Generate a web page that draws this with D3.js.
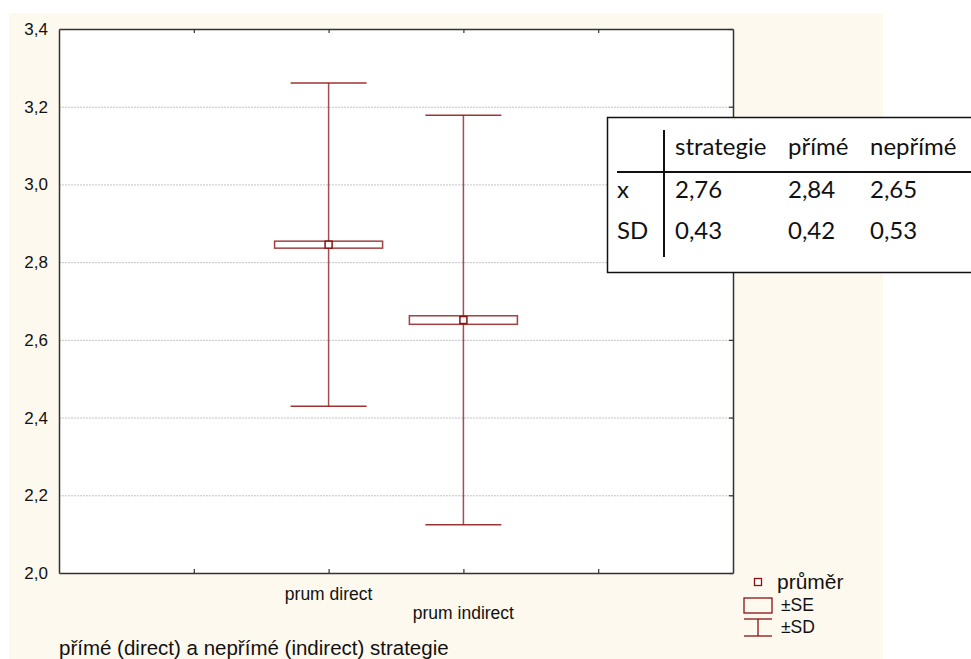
<!DOCTYPE html>
<html>
<head>
    <meta charset="utf-8">
    <title>přímé a nepřímé strategie</title>
    <style type="text/css">
    body { margin: 0; background: #fff; }
    svg text { font-family: "Liberation Sans", Arial, sans-serif; fill: #111; }
    .tbl text { font-family: Lato, "Open Sans", sans-serif; font-size: 24px; }
    .grid line { stroke: #c4c4c4; stroke-dasharray: 2,1; }
    </style>
</head>
<body>
<script src="https://cdn.jsdelivr.net/npm/d3@7"></script>
<script>
// data
var categories = ['prum direct', 'prum indirect'];
var catPos = [2, 3];           // slots on the x axis (0..5)
var means = [2.845, 2.651];
var se = [0.009, 0.011];
var sd = [0.416, 0.527];
var yTicks = [2.0, 2.2, 2.4, 2.6, 2.8, 3.0, 3.2, 3.4];

// table in the corner
var tblHead = ['', 'strategie', 'přímé', 'nepřímé'];
var tblRows = [
    ['x', '2,76', '2,84', '2,65'],
    ['SD', '0,43', '0,42', '0,53']
];
var legendLabels = ['průměr', '±SE', '±SD'];

var W = 971, H = 659,
    red = '#8b1111',
    plot = { left: 59, right: 733, top: 29, bottom: 573 };

var svg = d3.select('body').append('svg')
    .attr('width', W)
    .attr('height', H);

// cream page background
svg.append('rect')
    .attr('x', 9).attr('y', 13)
    .attr('width', 874).attr('height', H - 13)
    .attr('fill', '#fdf9ee');

svg.append('rect')
    .attr('x', plot.left).attr('y', plot.top)
    .attr('width', plot.right - plot.left).attr('height', plot.bottom - plot.top)
    .attr('fill', '#fff');

var x = d3.scaleLinear().domain([0, 5]).range([plot.left, plot.right]);
var y = d3.scaleLinear().domain([2.0, 3.4]).range([plot.bottom, plot.top]);
var fmt = function(d) { return d3.format('.1f')(d).replace('.', ','); };

// gridlines
svg.append('g').attr('class', 'grid')
    .selectAll('line')
    .data(yTicks.filter(function(d) { return d > 2.0 && d < 3.4; }))
    .enter().append('line')
    .attr('x1', plot.left).attr('x2', plot.right)
    .attr('y1', function(d) { return y(d) + 0.5; })
    .attr('y2', function(d) { return y(d) + 0.5; });

// axes
var axisStyle = function(g) {
    g.select('.domain').attr('stroke', '#333').attr('stroke-width', 1.5);
    g.selectAll('.tick line').attr('stroke', '#333').attr('stroke-width', 1.2);
};
svg.append('g')
    .attr('transform', 'translate(0,' + plot.bottom + ')')
    .call(d3.axisBottom(x).tickValues([1, 2, 3, 4]).tickSize(-4).tickSizeOuter(0).tickFormat(''))
    .call(axisStyle);
svg.append('g')
    .attr('transform', 'translate(0,' + plot.top + ')')
    .call(d3.axisTop(x).tickValues([1, 2, 3, 4]).tickSize(-4).tickSizeOuter(0).tickFormat(''))
    .call(axisStyle);
svg.append('g')
    .attr('transform', 'translate(' + plot.right + ',0)')
    .call(d3.axisRight(y).tickValues(yTicks).tickSize(-4).tickSizeOuter(0).tickFormat(''))
    .call(axisStyle);
var yAxis = svg.append('g')
    .attr('transform', 'translate(' + plot.left + ',0)')
    .call(d3.axisLeft(y).tickValues(yTicks).tickSize(0).tickSizeOuter(0).tickPadding(11).tickFormat(fmt))
    .call(axisStyle);
yAxis.selectAll('text')
    .style('font-family', '"Liberation Sans", Arial, sans-serif')
    .style('font-size', '17px').attr('fill', '#111');

// category labels, staggered
svg.selectAll('.cat')
    .data(categories)
    .enter().append('text')
    .attr('class', 'cat')
    .attr('x', function(d, i) { return x(catPos[i]); })
    .attr('y', function(d, i) { return 600 + i * 19; })
    .attr('text-anchor', 'middle')
    .style('font-size', '17.5px')
    .text(function(d) { return d; });

svg.append('text')
    .attr('x', 59).attr('y', 655)
    .style('font-size', '20.5px')
    .text('přímé (direct) a nepřímé (indirect) strategie');

// error bars
var bars = svg.selectAll('.eb')
    .data(means)
    .enter().append('g')
    .attr('class', 'eb')
    .attr('transform', function(d, i) { return 'translate(' + x(catPos[i]) + ',0)'; });

bars.append('line')
    .attr('x1', 0).attr('x2', 0)
    .attr('y1', function(d, i) { return y(d + sd[i]); })
    .attr('y2', function(d, i) { return y(d - sd[i]); })
    .attr('stroke', red).attr('stroke-opacity', 0.75).attr('stroke-width', 1.5);
[1, -1].forEach(function(s) {
    bars.append('line')
        .attr('x1', -38).attr('x2', 38)
        .attr('y1', function(d, i) { return y(d + s * sd[i]); })
        .attr('y2', function(d, i) { return y(d + s * sd[i]); })
        .attr('stroke', red).attr('stroke-opacity', 0.85).attr('stroke-width', 1.5);
});
bars.append('rect')
    .attr('x', -54).attr('width', 108)
    .attr('y', function(d, i) { return y(d + se[i]); })
    .attr('height', function(d, i) { return y(d - se[i]) - y(d + se[i]); })
    .attr('fill', '#fff').attr('stroke', red).attr('stroke-opacity', 0.8).attr('stroke-width', 1.5);
bars.append('rect')
    .attr('x', -3.5).attr('width', 7)
    .attr('y', function(d) { return y(d) - 3.5; })
    .attr('height', 7)
    .attr('fill', '#fff').attr('stroke', red).attr('stroke-width', 1.5);

// legend
var lg = svg.append('g').attr('transform', 'translate(758,0)');
lg.append('rect').attr('x', -3.5).attr('y', 578.5).attr('width', 7).attr('height', 7)
    .attr('fill', '#fff').attr('stroke', red).attr('stroke-width', 1.3);
lg.append('rect').attr('x', -14).attr('y', 598).attr('width', 28).attr('height', 15)
    .attr('fill', 'none').attr('stroke', red).attr('stroke-width', 1.3);
lg.append('line').attr('x1', -14).attr('x2', 14).attr('y1', 619).attr('y2', 619)
    .attr('stroke', red).attr('stroke-width', 1.3);
lg.append('line').attr('x1', -14).attr('x2', 14).attr('y1', 636).attr('y2', 636)
    .attr('stroke', red).attr('stroke-width', 1.3);
lg.append('line').attr('x1', 0).attr('x2', 0).attr('y1', 619).attr('y2', 636)
    .attr('stroke', red).attr('stroke-width', 1.3);
lg.selectAll('text')
    .data(legendLabels)
    .enter().append('text')
    .attr('x', function(d, i) { return i === 0 ? 19 : 23; })
    .attr('y', function(d, i) { return [589, 611, 633][i]; })
    .style('font-size', function(d, i) { return i === 0 ? '21px' : '17.5px'; })
    .text(function(d) { return d; });

// summary table box
var tbl = svg.append('g').attr('class', 'tbl');
tbl.append('rect')
    .attr('x', 607.5).attr('y', 117.5)
    .attr('width', 380).attr('height', 155)
    .attr('fill', '#fff').attr('stroke', '#111').attr('stroke-width', 1.5);
tbl.append('line').attr('x1', 664).attr('x2', 664).attr('y1', 130).attr('y2', 257)
    .attr('stroke', '#111').attr('stroke-width', 2);
tbl.append('line').attr('x1', 617).attr('x2', 971).attr('y1', 172).attr('y2', 172)
    .attr('stroke', '#111').attr('stroke-width', 2);
var colX = [617, 675, 788, 870];
var rowY = [155, 198, 239];
[tblHead].concat(tblRows).forEach(function(row, r) {
    tbl.selectAll('.r' + r)
        .data(row)
        .enter().append('text')
        .attr('class', 'r' + r)
        .attr('x', function(d, c) { return colX[c]; })
        .attr('y', rowY[r])
        .text(function(d) { return d; });
});
</script>
</body>
</html>
